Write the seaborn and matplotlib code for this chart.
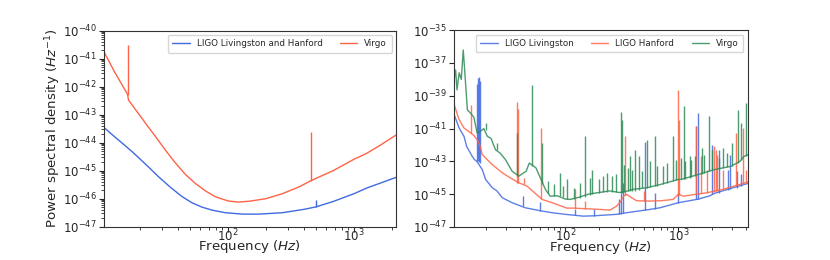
import numpy as np
import matplotlib
matplotlib.use("Agg")
import matplotlib.pyplot as plt
from matplotlib.ticker import LogLocator
import seaborn as sns

BLUE = "#4169E1"
RED = "#FF6347"
GREEN = "#2E8B57"

# ─── Left panel: design sensitivity curves (log10 of PSD) ───
ligo_f = [10, 12.5, 15, 17.5, 20.4, 24, 27.8, 35, 43, 51.4, 62, 75, 95, 130, 176, 270, 400, 500, 682, 1000, 1259, 1600, 2150]
ligo_psd = [-43.4, -43.78, -44.08, -44.34, -44.62, -44.92, -45.2, -45.6, -45.92, -46.14, -46.3, -46.41, -46.5, -46.55, -46.55, -46.5, -46.38, -46.29, -46.1, -45.82, -45.62, -45.45, -45.24]
ligo_spike_f = [500]
ligo_spike_base = [-46.29]
ligo_spike_top = [-46.05]

virgo_f = [10, 12.5, 15.9, 16.2, 18, 20.4, 23, 27, 31.6, 37.8, 45.5, 54.8, 66, 79.2, 100, 120, 147, 199, 270, 369, 457, 682, 1000, 1259, 1600, 2150]
virgo_psd = [-40.63, -41.46, -42.27, -42.48, -42.76, -43.09, -43.41, -43.83, -44.25, -44.7, -45.12, -45.45, -45.72, -45.93, -46.08, -46.12, -46.09, -46.0, -45.82, -45.57, -45.35, -45.0, -44.59, -44.38, -44.1, -43.73]
virgo_spike_f = [16, 457]
virgo_spike_base = [-42.3, -45.35]
virgo_spike_top = [-40.51, -43.6]

# ─── Right panel: measured spectra (log10 of PSD) ───
liv_f = [10, 10.4, 11.5, 12.7, 13.4, 15.0, 15.7, 16.5, 18.4, 19.7, 22.6, 24.8, 27.7, 33.8, 44.3, 62.3, 76.3, 100, 144, 177, 284, 348, 558, 686, 1000, 1500, 1892, 2082, 2900, 4096]
liv_psd = [-40.0, -40.16, -40.97, -41.48, -42.09, -42.69, -42.89, -43.0, -43.5, -44.1, -44.61, -44.8, -45.22, -45.52, -45.83, -46.03, -46.13, -46.23, -46.34, -46.32, -46.23, -46.13, -45.93, -45.83, -45.52, -45.3, -45.1, -44.95, -44.65, -44.35]
liv_spike_f = [16.6, 16.9, 17.2, 17.5, 42.1, 60, 122, 180, 300, 310, 325, 506, 615, 1000, 1432, 1500, 1995, 2303, 2739, 2835, 3300, 3600]
liv_spike_base = [-42.95, -43.0, -43.05, -43.1, -45.75, -46.03, -46.3, -46.32, -46.2, -46.2, -46.15, -45.95, -45.9, -45.52, -45.32, -45.3, -45.0, -44.9, -44.75, -44.7, -44.6, -44.5]
liv_spike_top = [-38.3, -37.9, -37.83, -38.1, -45.12, -45.5, -45.9, -45.9, -45.3, -44.92, -44.31, -41.8, -44.92, -44.9, -40.87, -40.06, -41.98, -42.29, -43.5, -42.59, -43.6, -43.8]

han_f = [10, 10.4, 11.5, 12.7, 13.5, 15.4, 16.6, 17.7, 18.4, 22.6, 27.7, 32.5, 38.8, 45.6, 62.3, 76.3, 103, 117, 202, 248, 284, 304, 330, 348, 426, 558, 700, 898, 1000, 1100, 1770, 2500, 3500, 4096]
han_psd = [-39.15, -39.55, -40.46, -40.97, -41.1, -41.4, -41.68, -42.09, -42.59, -43.2, -43.7, -44.0, -44.31, -44.5, -45.32, -45.52, -45.85, -45.85, -45.93, -45.97, -45.73, -45.5, -45.1, -45.02, -45.4, -45.42, -45.4, -45.32, -45.0, -45.12, -44.92, -44.7, -44.4, -44.25]
han_spike_f = [14.5, 37.5, 38, 43, 61.4, 121.8, 150, 336, 500, 988, 1010, 1432, 1585, 1800, 2082, 2150, 2200, 2500, 3219, 3700, 4000]
han_spike_base = [-41.3, -44.3, -44.3, -44.4, -45.3, -45.85, -45.9, -45.05, -45.4, -45.1, -45.05, -45.0, -44.95, -44.9, -44.85, -44.82, -44.8, -44.7, -44.5, -44.35, -44.3]
han_spike_top = [-39.55, -39.35, -39.8, -44.0, -40.97, -44.71, -45.4, -41.48, -44.8, -38.64, -40.5, -40.87, -42.69, -43.5, -42.09, -42.3, -42.6, -43.5, -41.27, -40.97, -43.5]

vir_f = [10, 10.7, 11.0, 11.5, 12.0, 12.5, 13.1, 13.6, 14.5, 15.5, 16.6, 17.5, 19.0, 20.4, 22.0, 24.1, 26.5, 29.5, 33.8, 38.8, 45, 48, 55, 60, 66.6, 73.3, 85, 100, 110, 130, 160, 189, 248, 300, 348, 400, 524, 700, 1000, 1058, 1500, 2082, 2916, 3500, 3800, 4096]
vir_psd = [-38.64, -37.43, -38.64, -37.6, -38.0, -36.21, -38.24, -39.86, -40.06, -40.3, -41.27, -41.2, -41.0, -41.47, -41.6, -42.29, -42.5, -42.89, -43.6, -43.9, -43.6, -43.1, -43.4, -44.0, -44.71, -45.12, -45.1, -45.3, -45.32, -45.2, -45.0, -44.92, -44.8, -44.9, -44.82, -44.7, -44.61, -44.4, -44.1, -44.1, -43.8, -43.5, -43.3, -43.0, -42.7, -42.6]
vir_spike_f = [19.7, 24.6, 37.5, 50.8, 61.8, 70, 80, 89.8, 95, 103, 120, 135, 149, 165, 171, 200, 215, 232, 260, 280, 310, 315, 330, 360, 372, 390, 412, 450, 480, 524, 560, 615, 650, 727, 800, 890, 950, 1050, 1117, 1150, 1254, 1300, 1400, 1600, 1700, 1882, 2000, 2300, 2500, 2700, 3000, 3364, 3606, 4000]
vir_spike_base = [-41.1, -42.3, -43.9, -43.3, -44.4, -44.9, -45.1, -45.1, -45.2, -45.3, -45.3, -45.25, -45.2, -45.05, -45.0, -44.9, -44.88, -44.85, -44.85, -44.85, -44.9, -44.9, -44.85, -44.8, -44.8, -44.78, -44.78, -44.72, -44.65, -44.6, -44.58, -44.5, -44.48, -44.4, -44.3, -44.2, -44.15, -44.1, -44.1, -44.05, -44.0, -43.98, -43.9, -43.75, -43.7, -43.6, -43.55, -43.45, -43.4, -43.35, -43.3, -43.1, -42.9, -42.65]
vir_spike_top = [-40.67, -41.9, -41.3, -38.34, -41.88, -44.2, -44.4, -43.7, -44.5, -44.1, -44.6, -44.3, -41.48, -44.0, -43.5, -44.1, -43.9, -43.7, -43.9, -43.8, -40.02, -40.5, -43.2, -43.4, -42.69, -43.5, -42.29, -42.69, -43.6, -41.68, -43.0, -41.48, -43.3, -43.3, -43.1, -41.48, -42.9, -42.8, -39.61, -43.0, -42.69, -42.9, -42.7, -42.2, -42.6, -40.22, -42.3, -42.8, -42.2, -42.5, -41.9, -39.86, -40.67, -39.45]

sns.set_style("ticks")
plt.rcParams["font.family"] = ["DejaVu Sans"]
plt.rcParams["axes.edgecolor"] = "#333333"

fig = plt.figure(figsize=(8.3, 2.6), dpi=100)
ax1 = fig.add_axes([0.1247, 0.128, 0.3523, 0.754])
ax2 = fig.add_axes([0.5464, 0.127, 0.3544, 0.757])


def draw(ax, f, psd, sf, sb, st, color, label, alpha=1.0):
    sns.lineplot(x=f, y=10.0 ** np.array(psd), ax=ax, color=color, lw=1,
                 label=label, sort=False, estimator=None, alpha=alpha)
    ax.vlines(sf, 10.0 ** np.array(sb), 10.0 ** np.array(st), color=color,
              lw=1, alpha=alpha)


for ax in (ax1, ax2):
    ax.set_xscale("log")
    ax.set_yscale("log")

draw(ax1, ligo_f, ligo_psd, ligo_spike_f, ligo_spike_base, ligo_spike_top,
     BLUE, "LIGO Livingston and Hanford")
draw(ax1, virgo_f, virgo_psd, virgo_spike_f, virgo_spike_base, virgo_spike_top,
     RED, "Virgo")
ax1.set_xlim(10.25, 2150)
ax1.set_ylim(1e-47, 1e-40)
ax1.yaxis.set_major_locator(LogLocator(base=10, numticks=20))
ax1.set_ylabel("Power spectral density ($Hz^{-1}$)", fontsize=9.6)
ax1.yaxis.set_label_coords(-0.14, 0.5)
ax1.legend(loc="upper right", ncol=2, fontsize=6.3, borderpad=0.5)

draw(ax2, liv_f, liv_psd, liv_spike_f, liv_spike_base, liv_spike_top,
     BLUE, "LIGO Livingston", alpha=0.85)
draw(ax2, han_f, han_psd, han_spike_f, han_spike_base, han_spike_top,
     RED, "LIGO Hanford", alpha=0.85)
draw(ax2, vir_f, vir_psd, vir_spike_f, vir_spike_base, vir_spike_top,
     GREEN, "Virgo", alpha=0.85)
ax2.set_xlim(10.25, 4096)
ax2.set_ylim(1e-47, 1e-35)
ax2.legend(loc="upper right", ncol=3, fontsize=6.3, borderpad=0.5)

for ax in (ax1, ax2):
    ax.set_xlabel("Frequency ($Hz$)", fontsize=9.6)
    ax.xaxis.set_label_coords(0.5, -0.06)
    ax.tick_params(labelsize=8.5, length=3.5, pad=1.5)
    ax.tick_params(axis="x", pad=-3)
    ax.tick_params(which="minor", length=2)

fig.savefig("out.png", dpi=100)
